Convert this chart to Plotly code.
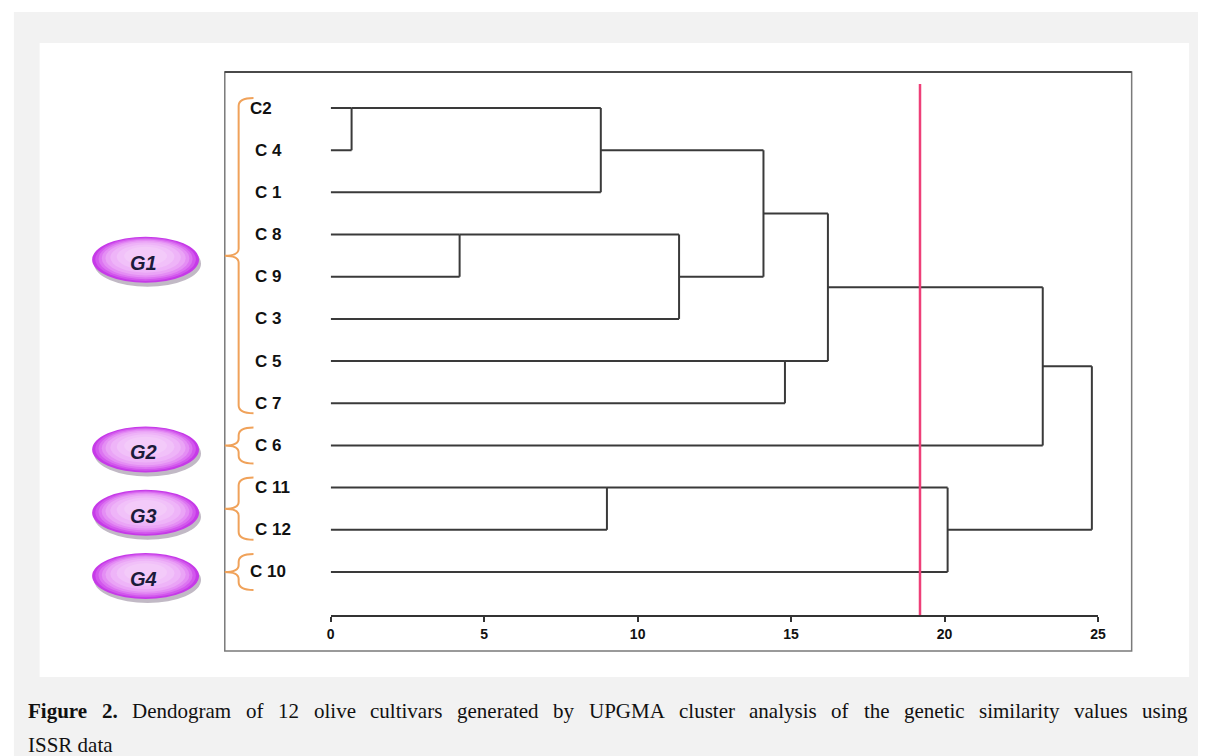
import plotly.graph_objects as go

# ---------------- data ----------------
leaves = ["C2", "C4", "C1", "C8", "C9", "C3", "C5", "C7", "C6", "C11", "C12", "C10"]
leaf_labels = ["C2", "C 4", "C 1", "C 8", "C 9", "C 3", "C 5", "C 7", "C 6", "C 11", "C 12", "C 10"]

merge_names = ["M1", "M2", "M3", "M4", "M5", "M6", "M7", "M8", "M9", "M10", "M11"]
merge_a = ["C2", "C8", "M1", "C11", "M2", "M3", "C5", "M6", "M4", "M8", "M10"]
merge_b = ["C4", "C9", "C1", "C12", "C3", "M5", "C7", "M7", "C10", "C6", "M9"]
merge_height = [0.68, 4.2, 8.8, 9.0, 11.35, 14.1, 14.8, 16.2, 20.1, 23.2, 24.8]

cut_value = 19.2
x_ticks = [0, 5, 10, 15, 20, 25]

groups = ["G1", "G2", "G3", "G4"]
group_members = [["C2", "C4", "C1", "C8", "C9", "C3", "C5", "C7"],
                 ["C6"], ["C11", "C12"], ["C10"]]

caption_bold_words = ["Figure", "2."]
caption_words = ["Dendogram", "of", "12", "olive", "cultivars", "generated", "by", "UPGMA", "cluster",
                 "analysis", "of", "the", "genetic", "similarity", "values", "using"]
caption_line2 = "ISSR data"

# ---------------- geometry helpers (page pixels) ----------------
W, H = 1206, 756
X0_PX, PX_PER_UNIT = 330.0, 31.0
ROW0_PX, ROW_PX = 108.0, 42.18
AX_TOP, AX_BOT = 84.0, 615.0


def pxx(x):
    return x / W


def pxy(y):
    return 1 - y / H


def row_px(r):
    return ROW0_PX + ROW_PX * r


# ---------------- dendrogram segments ----------------
pos = {name: (0.0, float(i)) for i, name in enumerate(leaves)}
xs, ys = [], []
for name, a, b, h in zip(merge_names, merge_a, merge_b, merge_height):
    xa, ya = pos[a]
    xb, yb = pos[b]
    xs += [xa, h, None, xb, h, None, h, h, None]
    ys += [ya, ya, None, yb, yb, None, ya, yb, None]
    if a in leaves and b in leaves:
        ny = min(ya, yb)
    else:
        ny = (ya + yb) / 2
    pos[name] = (h, ny)

fig = go.Figure()
fig.add_trace(go.Scatter(x=xs, y=ys, mode="lines",
                         line=dict(color="#3a3a3a", width=2),
                         hoverinfo="skip", showlegend=False, cliponaxis=False))

shapes = []
# page background
shapes.append(dict(type="rect", xref="paper", yref="paper", x0=pxx(10), x1=pxx(W), y0=pxy(12), y1=pxy(H),
                   fillcolor="#f2f2f2", line=dict(width=0), layer="below"))
shapes.append(dict(type="rect", xref="paper", yref="paper", x0=pxx(36), x1=pxx(1197), y0=pxy(43), y1=pxy(677),
                   fillcolor="#ffffff", line=dict(width=0), layer="below"))
# frame
shapes.append(dict(type="rect", xref="paper", yref="paper", x0=pxx(223), x1=pxx(1139), y0=pxy(72), y1=pxy(651),
                   fillcolor="rgba(0,0,0,0)", line=dict(color="#7a7a7a", width=1.5), layer="below"))
shapes.append(dict(type="line", xref="paper", yref="paper", x0=pxx(223), x1=pxx(1139), y0=pxy(72), y1=pxy(72),
                   line=dict(color="#4a4a4a", width=2), layer="below"))
# cut line
shapes.append(dict(type="line", xref="x", yref="paper", x0=cut_value, x1=cut_value,
                   y0=pxy(AX_TOP), y1=pxy(AX_BOT), line=dict(color="#ee3f78", width=2.5)))

annotations = []
# leaf labels
for i, lab in enumerate(leaf_labels):
    lx = 246 if lab in ("C2", "C 10") else 251
    annotations.append(dict(x=pxx(lx), y=i, xref="paper", yref="y", text=lab, showarrow=False,
                            xanchor="left", yanchor="middle",
                            font=dict(family="Liberation Sans, Arial", size=17, color="#111111", weight="bold")))

# braces and ovals
oval_layers = [(1.00, "#c63ae8"), (0.94, "#d257ed"), (0.88, "#dc74f1"), (0.82, "#e48ef4"),
               (0.75, "#eaa4f6"), (0.66, "#eeb4f8"), (0.54, "#f1c1f9"), (0.40, "#f3caf9")]
for g, members in zip(groups, group_members):
    rows = [leaves.index(m) for m in members]
    top_px, bot_px = row_px(min(rows)), row_px(max(rows))
    mid = (top_px + bot_px) / 2
    half = max((bot_px - top_px) / 2 + 10, 18)
    t, b = mid - half, mid + half
    xv, xt, xe = 237, 223, 252
    path = (f"M {pxx(xe)},{pxy(t)} Q {pxx(xv)},{pxy(t)} {pxx(xv)},{pxy(t + 8)} "
            f"L {pxx(xv)},{pxy(mid - 7)} Q {pxx(xv)},{pxy(mid)} {pxx(xt)},{pxy(mid)} "
            f"Q {pxx(xv)},{pxy(mid)} {pxx(xv)},{pxy(mid + 7)} "
            f"L {pxx(xv)},{pxy(b - 8)} Q {pxx(xv)},{pxy(b)} {pxx(xe)},{pxy(b)}")
    shapes.append(dict(type="path", xref="paper", yref="paper", path=path,
                       line=dict(color="#f0a25a", width=2)))
    cy = mid + 4
    cx, rx, ry = 143, 54, 23
    shapes.append(dict(type="circle", xref="paper", yref="paper",
                       x0=pxx(cx - rx + 2), x1=pxx(cx + rx + 2), y0=pxy(cy - ry + 4), y1=pxy(cy + ry + 4),
                       fillcolor="rgba(100,80,110,0.40)", line=dict(width=0)))
    for s, col in oval_layers:
        sx, sy = rx * s, ry * s
        oy = cy - (1 - s) * 6
        shapes.append(dict(type="circle", xref="paper", yref="paper",
                           x0=pxx(cx - sx), x1=pxx(cx + sx), y0=pxy(oy - sy), y1=pxy(oy + sy),
                           fillcolor=col, line=dict(width=0)))
    annotations.append(dict(x=pxx(cx - 2), y=pxy(cy + 3), xref="paper", yref="paper", text=f"<i>{g}</i>",
                            showarrow=False, xanchor="center", yanchor="middle",
                            font=dict(family="Liberation Sans, Arial", size=20, color="#1b1b3a", weight="bold")))

# caption: justified first line (Times metrics, units per 1000 em)
REG = {"D": 722, "e": 444, "n": 500, "d": 500, "o": 500, "g": 500, "r": 333, "a": 444, "m": 778,
       "f": 333, "1": 500, "2": 500, "l": 278, "i": 278, "v": 500, "c": 444, "u": 500, "t": 278,
       "s": 389, "b": 500, "y": 500, "U": 722, "P": 556, "G": 722, "M": 889, "A": 722, "h": 500}
BOLD = {"F": 611, "i": 278, "g": 500, "u": 556, "r": 444, "e": 444, "2": 500, ".": 250}
CAP_SIZE = 21
LINE_X0, LINE_X1 = 24, 1195


def wlen(word, table):
    return sum(table.get(ch, 500) for ch in word) * CAP_SIZE / 1000.0


pieces = [(w, True) for w in caption_bold_words] + [(w, False) for w in caption_words]
widths = [wlen(w, BOLD if bold else REG) for w, bold in pieces]
gap = (LINE_X1 - LINE_X0 - sum(widths)) / (len(pieces) - 1)
xcur = LINE_X0
for (w, bold), wd in zip(pieces, widths):
    annotations.append(dict(x=pxx(xcur - 2), y=pxy(711), xref="paper", yref="paper",
                            text=f"<b>{w}</b>" if bold else w, showarrow=False,
                            xanchor="left", yanchor="middle",
                            font=dict(family="Liberation Serif, Times New Roman", size=CAP_SIZE, color="#111111")))
    xcur += wd + gap
annotations.append(dict(x=pxx(LINE_X0 - 2), y=pxy(745), xref="paper", yref="paper",
                        text=caption_line2, showarrow=False, xanchor="left", yanchor="middle",
                        font=dict(family="Liberation Serif, Times New Roman", size=CAP_SIZE, color="#111111")))

r_bot = (AX_BOT - ROW0_PX) / ROW_PX
r_top = (AX_TOP - ROW0_PX) / ROW_PX

fig.update_layout(
    width=W, height=H, autosize=False,
    margin=dict(l=0, r=0, t=0, b=0),
    paper_bgcolor="#ffffff", plot_bgcolor="rgba(0,0,0,0)",
    shapes=shapes, annotations=annotations,
    xaxis=dict(domain=[pxx(X0_PX), pxx(X0_PX + 25 * PX_PER_UNIT)], range=[0, 25],
               showgrid=False, zeroline=False, showline=True, linecolor="#333333", linewidth=2,
               ticks="outside", ticklen=5, tickwidth=2, tickcolor="#333333",
               tickvals=x_ticks, ticktext=[str(t) for t in x_ticks],
               tickfont=dict(family="Liberation Sans Narrow, Arial Narrow, Liberation Sans", size=14,
                             color="#111111", weight="bold")),
    yaxis=dict(domain=[pxy(AX_BOT), pxy(AX_TOP)], range=[r_bot, r_top],
               showgrid=False, zeroline=False, showline=False, showticklabels=False, ticks=""),
)

fig.write_html("out.html", config={"displayModeBar": False},
               post_script="document.body.style.margin='0';")
